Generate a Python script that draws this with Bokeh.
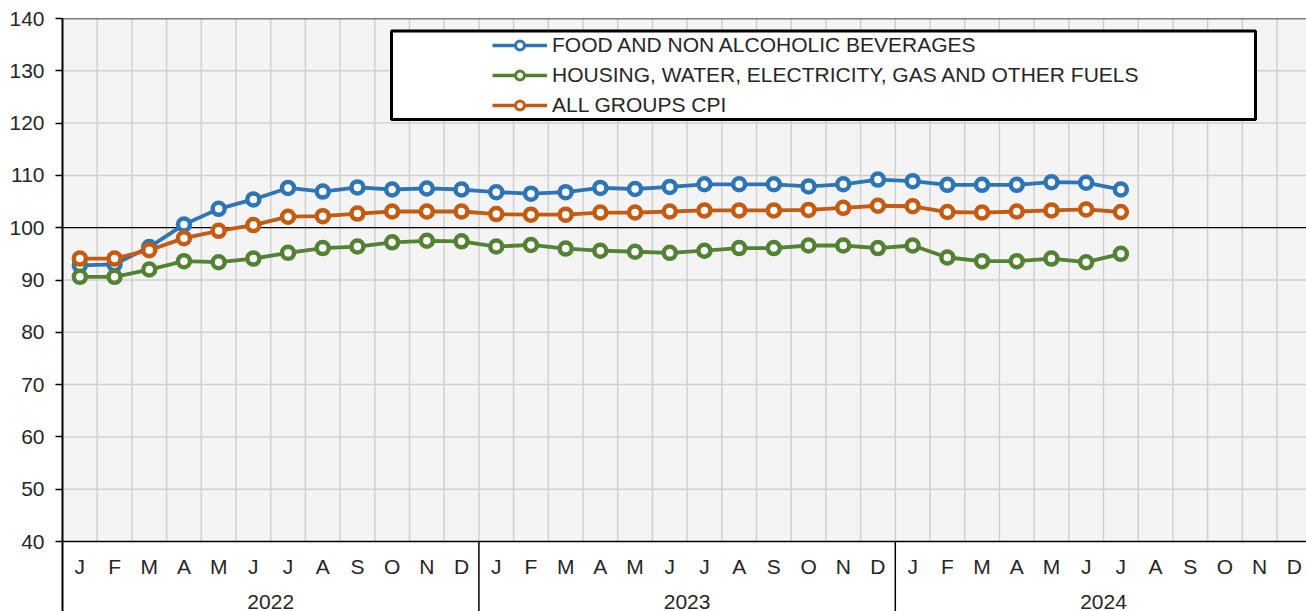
from bokeh.plotting import figure
from bokeh.models import Range1d, FixedTicker, Legend, LegendItem, BoxAnnotation
from bokeh.embed import file_html
from bokeh.resources import INLINE
from bokeh.core.properties import value

# ---------------- data ----------------
month_labels = ["J", "F", "M", "A", "M", "J", "J", "A", "S", "O", "N", "D"]
years = ["2022", "2023", "2024"]

food = [92.8, 93.0, 96.3, 100.6, 103.6, 105.4, 107.6, 106.9, 107.7, 107.3, 107.5, 107.3,
        106.8, 106.5, 106.8, 107.6, 107.4, 107.8, 108.3, 108.3, 108.3, 107.9, 108.3, 109.2,
        108.9, 108.2, 108.2, 108.2, 108.7, 108.6, 107.3]
housing = [90.6, 90.6, 92.0, 93.6, 93.4, 94.1, 95.2, 96.1, 96.4, 97.2, 97.5, 97.4,
           96.4, 96.7, 96.0, 95.6, 95.4, 95.2, 95.6, 96.1, 96.1, 96.6, 96.6, 96.1,
           96.6, 94.3, 93.6, 93.6, 94.1, 93.4, 95.0]
cpi = [94.1, 94.1, 95.7, 98.0, 99.4, 100.5, 102.1, 102.2, 102.7, 103.1, 103.1, 103.1,
       102.6, 102.5, 102.5, 102.9, 102.9, 103.1, 103.3, 103.3, 103.3, 103.4, 103.8, 104.2,
       104.1, 103.0, 102.9, 103.1, 103.3, 103.5, 103.0]
series_names = ["FOOD AND NON ALCOHOLIC BEVERAGES",
                "HOUSING, WATER, ELECTRICITY, GAS AND OTHER FUELS",
                "ALL GROUPS CPI"]
series_colors = ["#2E75B6", "#548235", "#C55A11"]
y_ticks = list(range(40, 141, 10))

# ---------------- layout ----------------
FONT = "Liberation Sans"
FS = "21px"
TXT = "#262626"
W, H = 1306, 611
BL, BT = 62, 18
FW, FH = W - BL, H - BT
PX_MONTH = 34.7
PX_UNIT = 5.23
Y_MIN, Y_MAX = y_ticks[0], y_ticks[-1]
n_months = len(month_labels) * len(years)
x_end = FW / PX_MONTH
y_start = Y_MAX - FH / PX_UNIT


def py(fig_y):  # figure pixel y -> data y
    return Y_MAX - (fig_y - BT) / PX_UNIT


def px(fig_x):  # figure pixel x -> data x
    return (fig_x - BL) / PX_MONTH


p = figure(width=W, height=H, x_range=Range1d(0, x_end), y_range=Range1d(y_start, Y_MAX),
           output_backend="svg", toolbar_location=None, x_axis_location=None,
           min_border_left=BL, min_border_top=BT, min_border_right=0, min_border_bottom=0)
p.grid.visible = False
p.outline_line_color = None
p.background_fill_color = "white"
p.border_fill_color = "white"

ax = p.yaxis[0]
ax.ticker = FixedTicker(ticks=y_ticks)
ax.minor_tick_line_color = None
ax.major_tick_out = 7
ax.major_tick_in = 0
ax.major_tick_line_color = "black"
ax.major_tick_line_width = 1.5
ax.axis_line_color = "black"
ax.axis_line_width = 2
ax.major_label_text_font = FONT
ax.major_label_text_font_size = FS
ax.major_label_text_color = TXT
ax.major_label_standoff = 11

# plot-area background and grid
p.quad(left=0, right=x_end, bottom=Y_MIN, top=Y_MAX, fill_color="#f4f4f4", line_color=None)
vx = list(range(1, n_months + 1))
p.segment(x0=vx, y0=Y_MIN, x1=vx, y1=Y_MAX, line_color="#d0d0d0", line_width=1.5)
hy = [t for t in y_ticks if t not in (Y_MIN, 100, Y_MAX)]
p.segment(x0=0, y0=hy, x1=x_end, y1=hy, line_color="#d0d0d0", line_width=1.5)
p.segment(x0=0, y0=[Y_MIN, 100, Y_MAX], x1=x_end, y1=[Y_MIN, 100, Y_MAX],
          line_color="black", line_width=[1.5, 1.2, 1.5])
ysep = [12 * (i + 1) for i in range(len(years))]
p.segment(x0=ysep, y0=y_start, x1=ysep, y1=Y_MIN, line_color="black", line_width=1.5)

# category labels
mx = [i + 0.5 for i in range(n_months)]
p.text(x=mx, y=py(566), text=month_labels * len(years), text_align="center",
       text_baseline="middle", text_font=value(FONT), text_font_size=FS, text_color=TXT)
yx = [12 * i + 6 for i in range(len(years))]
p.text(x=yx, y=py(601), text=years, text_align="center", text_baseline="middle",
       text_font=value(FONT), text_font_size=FS, text_color=TXT)

# series
nan = float("nan")
items = []
for vals, name, col in zip([food, housing, cpi], series_names, series_colors):
    xs = mx[:len(vals)]
    p.line(xs, vals, line_color=col, line_width=3.8)
    p.scatter(xs, vals, size=12, line_width=4.5, line_color=col, fill_color="white")
    lr = p.line([nan], [nan], line_color=col, line_width=3.5)
    sr = p.scatter([nan], [nan], size=7, line_width=3, line_color=col, fill_color="white")
    items.append(LegendItem(label=name, renderers=[lr, sr]))

box = BoxAnnotation(left=px(391), right=px(1255), top=py(30.5), bottom=py(119),
                    fill_color="white", fill_alpha=1, line_color="black", line_alpha=1,
                    line_width=3)
p.add_layout(box)

leg = Legend(items=items, location=(492 - BL, H - 117),
             padding=0, margin=0, spacing=6, label_height=22, glyph_height=22,
             glyph_width=55, label_standoff=5, background_fill_alpha=0,
             border_line_alpha=0, label_text_font=FONT, label_text_font_size=FS,
             label_text_color=TXT)
p.add_layout(leg)

open("out.html", "w").write(file_html(p, INLINE))
